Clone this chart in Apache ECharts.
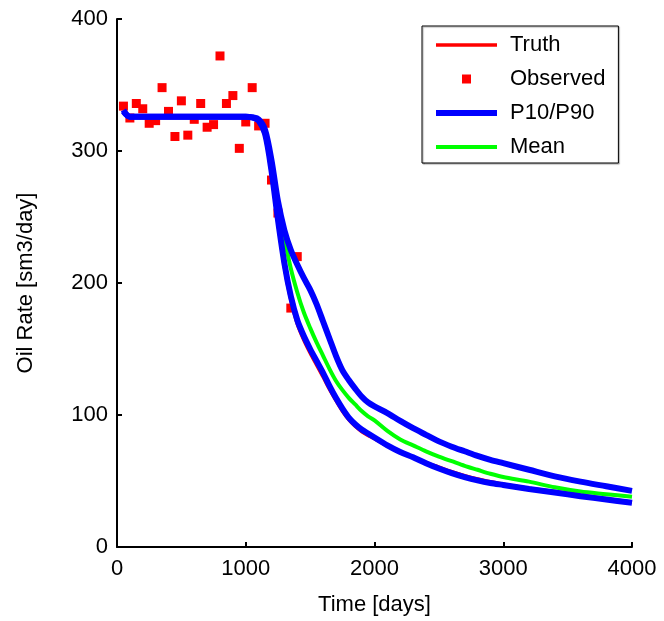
<!DOCTYPE html>
<html>
<head>
<meta charset="utf-8">
<script src="https://cdn.jsdelivr.net/npm/echarts@6/dist/echarts.min.js"></script>
<style>
html,body{margin:0;padding:0;background:#fff;}
#chart{width:664px;height:621px;}
</style>
</head>
<body>
<div id="chart"></div>
<script>
// ---- data ----
const times = [50, 100, 1000, 1050, 1100, 1150,
  1200, 1250, 1300, 1350, 1400, 1450, 1500, 1550, 1600, 1650, 1700, 1750, 1800, 1850, 1900, 1950, 2000,
  2100, 2200, 2300, 2400, 2500, 2600, 2700, 2800, 2900, 3000,
  3200, 3400, 3600, 3800, 4000];

const truth = [329, 326, 326, 325.5, 322, 311,
  282, 245, 212, 187, 169, 157, 147, 138, 129, 119.5, 111, 103, 96.5, 91.5, 87.5, 84.5, 82,
  76.5, 72, 68, 64, 60.5, 57, 54, 51.5, 49.5, 47.5,
  44.5, 42, 39.5, 36.5, 34];

const p10 = [330, 326, 326, 325.5, 323, 313,
  285, 248, 215, 190, 172, 160, 150, 141, 132, 122, 113, 105, 98, 93, 89, 86, 83,
  77, 72, 68, 63.5, 59.5, 56, 53, 50.5, 48.5, 47,
  44, 41.3, 38.5, 36, 33.5];

const mean = [330, 326, 326, 325.5, 323, 314,
  290, 258, 234, 211, 193, 178, 166, 155, 145, 135, 126, 119, 113, 108, 103, 99, 96,
  88, 81.5, 77, 72.5, 68.5, 65, 61.5, 58.5, 55.5, 53,
  49.5, 45.2, 42, 40, 38];

const p90 = [331, 326, 326, 325.5, 324, 316,
  293, 262, 240, 225, 214, 204, 195, 184, 171, 158, 145, 134, 126.5, 120, 114, 109.5, 106.5,
  101.5, 95.5, 90, 85, 80, 76, 72.5, 69, 66, 63.5,
  58.5, 53.5, 49.5, 46, 42.5];

const obsTimes = [50, 100, 150, 200, 250, 300, 350, 400, 450, 500, 550, 600, 650, 700, 750, 800,
  850, 900, 950, 1000, 1050, 1100, 1150, 1200, 1250, 1350, 1400];
const obsValues = [334, 325, 336, 332, 321, 323, 348, 330, 311, 338, 312, 324, 336, 318, 320, 372,
  336, 342, 302, 322, 348, 319, 321, 278, 253, 181, 220];

const xTicks = [0, 1000, 2000, 3000, 4000];
const yTicks = [0, 100, 200, 300, 400];

const legendNames = ['Truth', 'Observed', 'P10/P90', 'Mean'];

// ---- build ----
const pair = (xs, ys) => xs.map((x, i) => [x, ys[i]]);
const FONT = 'Liberation Sans, Arial, sans-serif';
const FS = 22;
const SM = 0.3;

const chart = echarts.init(document.getElementById('chart'), null, {renderer: 'canvas'});
chart.setOption({
  animation: false,
  backgroundColor: '#ffffff',
  textStyle: {fontFamily: FONT, color: '#000'},
  grid: {left: 117, right: 32, top: 19, bottom: 74, containLabel: false},
  xAxis: {
    type: 'value', min: xTicks[0], max: xTicks[xTicks.length - 1], interval: 1000,
    name: 'Time [days]', nameLocation: 'middle', nameGap: 47,
    nameTextStyle: {fontSize: FS, color: '#000', fontFamily: FONT},
    axisLine: {show: true, lineStyle: {color: '#000', width: 2}},
    axisTick: {show: true, inside: true, length: 5, lineStyle: {color: '#000', width: 2}},
    axisLabel: {fontSize: FS, color: '#000', fontFamily: FONT, margin: 11,
      formatter: v => String(v)},
    splitLine: {show: false}
  },
  yAxis: {
    type: 'value', min: yTicks[0], max: yTicks[yTicks.length - 1], interval: 100,
    name: 'Oil Rate [sm3/day]', nameLocation: 'middle', nameGap: 80,
    nameTextStyle: {fontSize: FS, color: '#000', fontFamily: FONT},
    axisLine: {show: true, lineStyle: {color: '#000', width: 2}},
    axisTick: {show: true, inside: true, length: 5, lineStyle: {color: '#000', width: 2}},
    axisLabel: {fontSize: FS, color: '#000', fontFamily: FONT, margin: 9,
      formatter: v => String(v)},
    splitLine: {show: false}
  },
  legend: {
    orient: 'vertical', left: 422, top: 26,
    data: [
      {name: legendNames[0], icon: 'path://M0,0M61,14M0,5.25h61v3.5h-61z'},
      {name: legendNames[1], icon: 'path://M0,0M61,14M26,2.5h9v9h-9z'},
      {name: legendNames[2], icon: 'path://M0,0M61,14M0,4h61v6h-61z'},
      {name: legendNames[3], icon: 'path://M0,0M61,14M0,5h61v4h-61z'}
    ],
    itemWidth: 61, itemHeight: 14, itemGap: 12,
    textStyle: {fontSize: FS, color: '#000', fontFamily: FONT, padding: [0, 0, 0, 8]},
    borderColor: '#000', borderWidth: 1,
    padding: [8, 13, 5, 14],
    backgroundColor: '#fff',
    shadowColor: 'rgba(0,0,0,0.35)', shadowBlur: 1, shadowOffsetX: 1, shadowOffsetY: 1,
    selectedMode: false
  },
  series: [
    {name: 'Truth', type: 'line', data: pair(times, truth), showSymbol: false, symbol: 'none',
     smooth: SM,
     lineStyle: {color: '#ff0000', width: 3.5}, itemStyle: {color: '#ff0000'}},
    {name: 'Observed', type: 'scatter', data: pair(obsTimes, obsValues), symbol: 'rect', symbolSize: 9,
     itemStyle: {color: '#ff0000', opacity: 1}},
    {name: 'Mean', type: 'line', data: pair(times, mean), showSymbol: false, symbol: 'none',
     smooth: SM,
     lineStyle: {color: '#00ff00', width: 4}, itemStyle: {color: '#00ff00'}},
    {name: 'P10/P90', type: 'line', data: pair(times, p10), showSymbol: false, symbol: 'none',
     smooth: SM,
     lineStyle: {color: '#0000ff', width: 6}, itemStyle: {color: '#0000ff'}},
    {name: 'P10/P90', type: 'line', data: pair(times, p90), showSymbol: false, symbol: 'none',
     smooth: SM,
     lineStyle: {color: '#0000ff', width: 6}, itemStyle: {color: '#0000ff'}}
  ]
});
</script>
</body>
</html>
